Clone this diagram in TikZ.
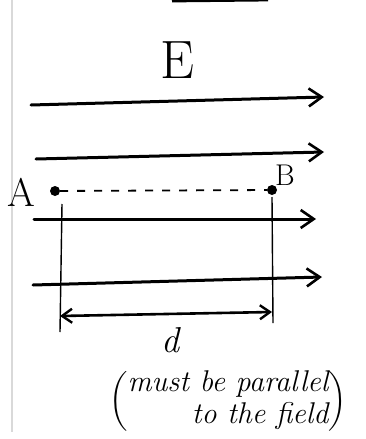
\documentclass[tikz,border=0pt]{standalone}
\usepackage{amsmath}
\usetikzlibrary{arrows.meta}

\begin{document}
\begin{tikzpicture}[x=1pt,y=-1pt,
field/.style={-{Straight Barb[length=13pt,width=18pt,line width=2.6pt]},line width=3pt,line cap=round},
guide/.style={line width=1.4pt},
pathline/.style={line width=1.8pt,dash pattern=on 8pt off 9pt},
dot/.style={circle,fill=black,inner sep=0pt,minimum size=10pt},
span/.style={{Straight Barb[length=10pt,width=14pt,line width=2.4pt]}-{Straight Barb[length=10pt,width=14pt,line width=2.4pt]},line width=2.6pt},
lab/.style={inner sep=0pt,font=\fontsize{30}{30}\selectfont}]
\useasboundingbox (0,0) rectangle (366,439);
% page edge and stray stroke
\draw[black!15,line width=1.5pt] (12,0) -- (12,432);
\draw[line width=2.8pt] (172,1) -- (268,0);
% field lines
\node[lab,font=\fontsize{54}{54}\selectfont] (E) at (177,60) {E};
\coordinate (f1s) at (31,105); \coordinate (f1e) at (324,97);
\coordinate (f2s) at (36,159); \coordinate (f2e) at (324,152);
\coordinate (f3s) at (34,219); \coordinate (f3e) at (316,219);
\coordinate (f4s) at (33,285); \coordinate (f4e) at (322,277);
\foreach \i in {1,...,4} {\draw[field] (f\i s) -- (f\i e);}
% points A and B
\node[dot] (A) at (55,191) {};
\node[dot] (B) at (272,190) {};
\node[lab,font=\fontsize{40}{40}\selectfont] (labA) at (21,192) {A};
\node[lab,font=\fontsize{30}{30}\selectfont] (labB) at (285,175) {B};
\draw[pathline] (A) -- (B);
% distance d
\coordinate (tA) at (62,204); \coordinate (bA) at (60,332);
\coordinate (tB) at (272,197); \coordinate (bB) at (273,323);
\draw[guide] (tA) -- (bA);
\draw[guide] (tB) -- (bB);
\coordinate (dl) at (60,316); \coordinate (dr) at (272,312);
\draw[span] (dl) -- (dr);
\node[lab,font=\fontsize{36}{36}\selectfont\itshape] (d) at (170,340) {d};
\node[lab,font=\fontsize{30}{32}\selectfont\itshape] (note) at (228,401)
  {$\left(\text{\begin{tabular}{@{}r@{}}must be parallel\\to the field\end{tabular}}\right)$};
\end{tikzpicture}
\end{document}
